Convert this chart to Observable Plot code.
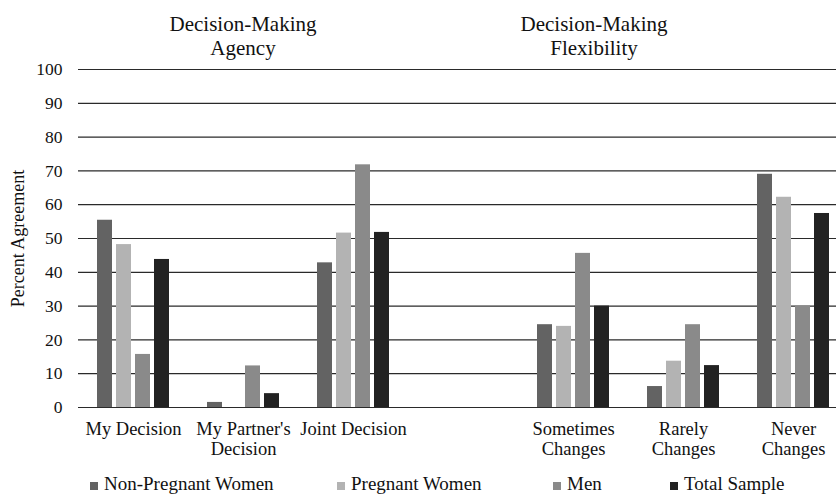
<!DOCTYPE html>
<html>
<head>
<meta charset="utf-8">
<script src="https://cdn.jsdelivr.net/npm/d3@7"></script>
<script src="https://cdn.jsdelivr.net/npm/@observablehq/plot@0.6"></script>
<style>
  html, body { margin: 0; padding: 0; background: #fff; }
  #wrap { position: relative; width: 836px; height: 497px; overflow: hidden; font-family: "Liberation Serif", serif; color: #111; }
  #chart { position: absolute; left: 0; top: 0; }
  .title { position: absolute; width: 260px; text-align: center; font-size: 21px; line-height: 23.5px; z-index: 2; }
  .leg { position: absolute; top: 474px; font-size: 19px; line-height: 20px; white-space: nowrap; }
  .sw { display: inline-block; width: 8px; height: 8px; margin-right: 6px; vertical-align: baseline; }
</style>
</head>
<body>
<div id="wrap">
  <div class="title" style="left:113px;top:13px;">Decision-Making<br>Agency</div>
  <div class="title" style="left:464px;top:13px;">Decision-Making<br>Flexibility</div>
  <div id="chart"></div>
  <div id="legend"></div>
</div>
<script>
// Categories (a blank spacer slot separates the two panels)
const categories = ["My Decision", "My Partner's Decision", "Joint Decision", " ", "Sometimes Changes", "Rarely Changes", "Never Changes"];
const tickLabels = ["My Decision", "My Partner's\nDecision", "Joint Decision", "", "Sometimes\nChanges", "Rarely\nChanges", "Never\nChanges"];
const dataCategories = ["My Decision", "My Partner's Decision", "Joint Decision", "Sometimes Changes", "Rarely Changes", "Never Changes"];
const series = ["Non-Pregnant Women", "Pregnant Women", "Men", "Total Sample"];
const colors = ["#636363", "#b3b3b3", "#8a8a8a", "#222222"];

// Series values (percent agreement), one per data category
const nonPregnantWomen = [55.4, 1.5, 42.8, 24.5, 6.2, 69.0];
const pregnantWomen    = [48.2, 0.0, 51.6, 24.0, 13.7, 62.2];
const men              = [15.7, 12.3, 71.8, 45.6, 24.5, 30.0];
const totalSample      = [43.8, 4.1, 51.8, 30.0, 12.4, 57.4];

const yTicks = [0, 10, 20, 30, 40, 50, 60, 70, 80, 90, 100];
const legendLeft = [90, 337, 553, 670];

const seriesValues = [nonPregnantWomen, pregnantWomen, men, totalSample];
const data = [];
dataCategories.forEach((c, i) => {
  series.forEach((s, j) => data.push({category: c, series: s, value: seriesValues[j][i]}));
});
const gridData = categories.flatMap(c => yTicks.filter(t => t > 0).map(t => ({category: c, t})));
const baseData = categories.map(c => ({category: c, t: 0}));
const labelMap = new Map(categories.map((c, i) => [c, tickLabels[i]]));

const chart = Plot.plot({
  width: 836,
  height: 470,
  marginLeft: 78,
  marginRight: 0,
  marginTop: 69,
  marginBottom: 63,
  style: {fontFamily: "Liberation Serif", fontSize: "17.5px", color: "#111", background: "transparent"},
  fx: {domain: categories, range: [78, 848], padding: 0, label: null},
  x: {domain: series, paddingInner: 0.22, paddingOuter: 0.882, axis: null},
  y: {domain: [0, 100]},
  color: {domain: series, range: colors},
  marks: [
    Plot.ruleY(gridData, {fx: "category", y: "t", stroke: "#2a2a2a", strokeWidth: 1.2}),
    Plot.barY(data, {fx: "category", x: "series", y: "value", fill: "series"}),
    Plot.ruleY(baseData, {fx: "category", y: "t", stroke: "#2a2a2a", strokeWidth: 1.2}),
    Plot.axisY({
      ticks: yTicks, tickSize: 0, tickPadding: 16, fontSize: 17.5,
      label: null
    }),
    Plot.axisY({
      ticks: [], tickSize: 0, fontSize: 18,
      label: "Percent Agreement", labelAnchor: "center", labelOffset: 67, labelArrow: "none"
    }),
    Plot.axisFx({
      anchor: "bottom", tickSize: 0, tickPadding: 13, label: null,
      tickFormat: d => labelMap.get(d), fontSize: 18.5, lineHeight: 1.08
    })
  ]
});
document.getElementById("chart").appendChild(chart);

const legend = document.getElementById("legend");
series.forEach((s, i) => {
  const item = document.createElement("div");
  item.className = "leg";
  item.style.left = legendLeft[i] + "px";
  item.innerHTML = `<span class="sw" style="background:${colors[i]}"></span>${s}`;
  legend.appendChild(item);
});
</script>
</body>
</html>
